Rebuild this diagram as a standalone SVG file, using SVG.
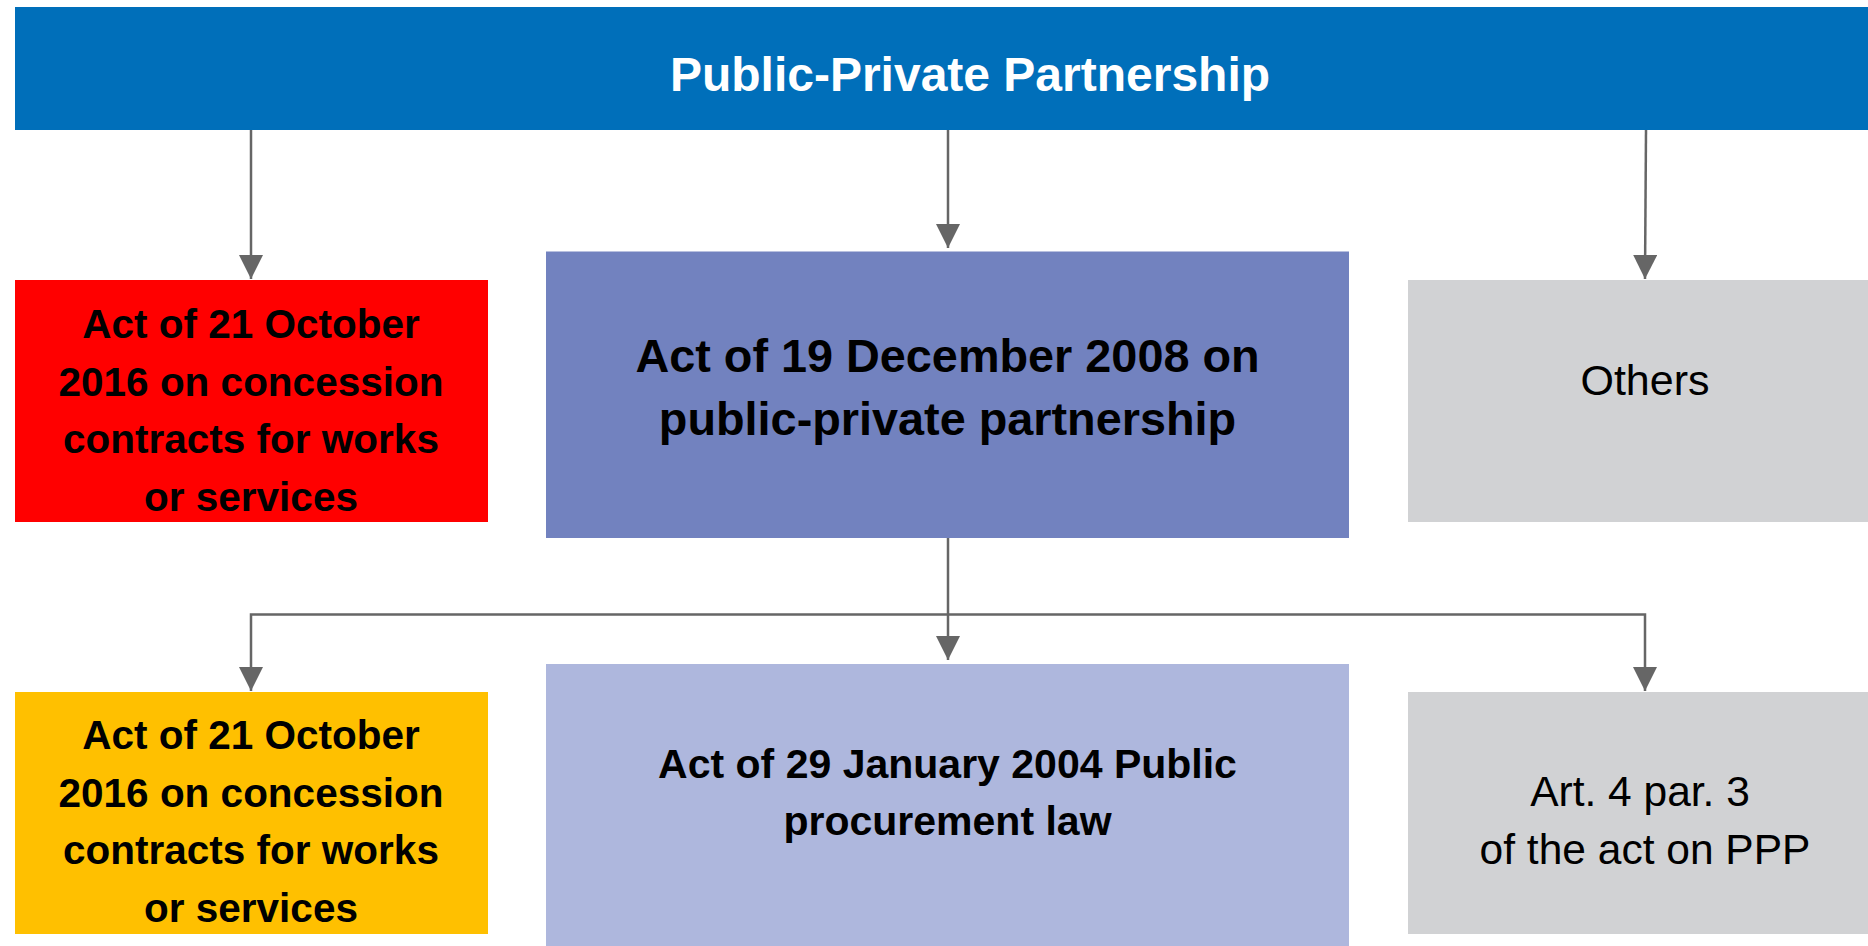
<svg xmlns="http://www.w3.org/2000/svg" width="1868" height="946" viewBox="0 0 1868 946">
  <style>
    .b { font-family: "Liberation Sans", Arial, sans-serif; font-weight: bold; fill: #000; text-anchor: middle; }
    .r { font-family: "Liberation Sans", Arial, sans-serif; font-weight: normal; fill: #000; text-anchor: middle; }
    .conn { stroke: #666666; stroke-width: 2.5; fill: none; }
  </style>
  <defs>
    <marker id="arrow" viewBox="0 0 24 24" refX="24" refY="12" markerWidth="24" markerHeight="24" markerUnits="userSpaceOnUse" orient="auto">
      <path d="M0,0 L24,12 L0,24 z" fill="#666666"/>
    </marker>
  </defs>
  <rect x="0" y="0" width="1868" height="946" fill="#ffffff"/>

  <g id="connectors">
    <line class="conn" x1="251" y1="130" x2="251" y2="279" marker-end="url(#arrow)"/>
    <line class="conn" x1="948" y1="130" x2="948" y2="248" marker-end="url(#arrow)"/>
    <line class="conn" x1="1646" y1="130" x2="1645" y2="279" marker-end="url(#arrow)"/>
    <line class="conn" x1="948" y1="538" x2="948" y2="660" marker-end="url(#arrow)"/>
    <path class="conn" d="M948,614.5 H251 V691" marker-end="url(#arrow)"/>
    <path class="conn" d="M948,614.5 H1645 V691" marker-end="url(#arrow)"/>
  </g>

  <g id="ppp">
    <rect x="15" y="7" width="1853" height="123" fill="#006FBA"/>
    <text x="970" y="91" font-family="Liberation Sans, Arial, sans-serif" font-weight="bold" font-size="48" fill="#ffffff" text-anchor="middle">Public-Private Partnership</text>
  </g>

  <g id="concession-top">
    <rect x="15" y="280" width="473" height="242" fill="#FF0000"/>
    <text class="b" font-size="40.5"><tspan x="251" y="338">Act of 21 October</tspan><tspan x="251" y="395.5">2016 on concession</tspan><tspan x="251" y="453">contracts for works</tspan><tspan x="251" y="510.5">or services</tspan></text>
  </g>

  <g id="ppp-act">
    <rect x="546" y="251.5" width="803" height="286.5" fill="#7282BF"/>
    <text class="b" font-size="46.8"><tspan x="947.5" y="372">Act of 19 December 2008 on</tspan><tspan x="947.5" y="435">public-private partnership</tspan></text>
  </g>

  <g id="others">
    <rect x="1408" y="280" width="460" height="242" fill="#D1D2D4"/>
    <text class="r" font-size="43" x="1645" y="395">Others</text>
  </g>

  <g id="concession-bottom">
    <rect x="15" y="692" width="473" height="242" fill="#FFC000"/>
    <text class="b" font-size="40.5"><tspan x="251" y="749">Act of 21 October</tspan><tspan x="251" y="806.5">2016 on concession</tspan><tspan x="251" y="864">contracts for works</tspan><tspan x="251" y="921.5">or services</tspan></text>
  </g>

  <g id="procurement">
    <rect x="546" y="664" width="803" height="282" fill="#AEB7DD"/>
    <text class="b" font-size="41"><tspan x="947.5" y="778">Act of 29 January 2004 Public</tspan><tspan x="947.5" y="835">procurement law</tspan></text>
  </g>

  <g id="art4">
    <rect x="1408" y="692" width="460" height="242" fill="#D1D2D4"/>
    <text class="r" font-size="42.5"><tspan x="1640" y="806">Art. 4 par. 3</tspan><tspan x="1645" y="864">of the act on PPP</tspan></text>
  </g>
</svg>
